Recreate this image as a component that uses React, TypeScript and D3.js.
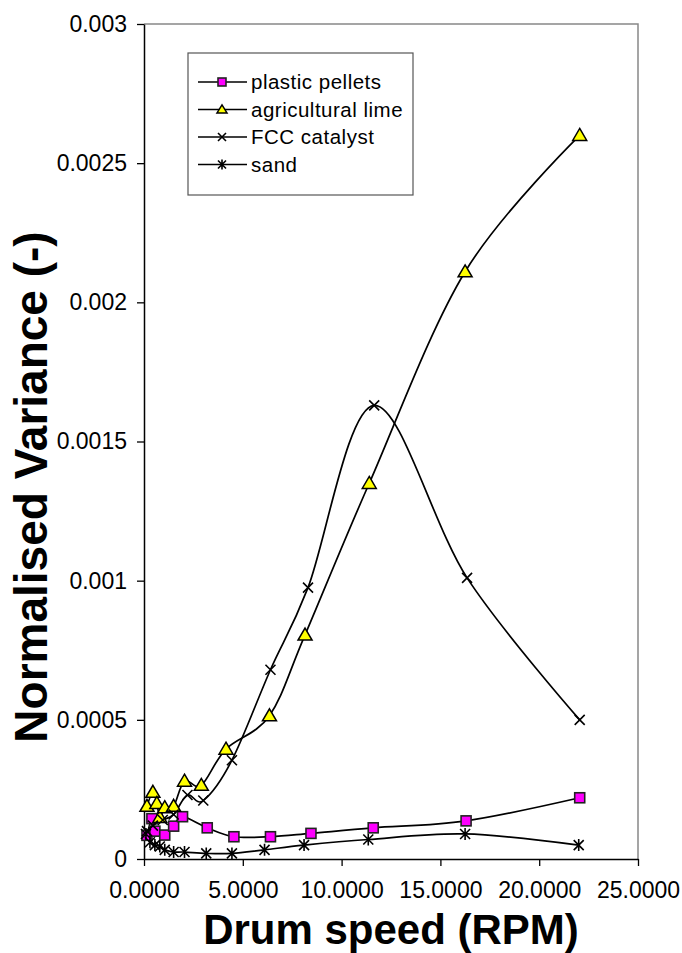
import React, { useEffect, useRef } from "react";
import * as d3 from "d3";

// values
const xTicks = [0, 5, 10, 15, 20, 25];
const yTicks = [0, 0.0005, 0.001, 0.0015, 0.002, 0.0025, 0.003];

const pelletsX = [0.15, 0.4, 0.55, 1.05, 1.5, 1.95, 3.2, 4.55, 6.4, 8.45, 11.6, 16.3, 22.05];
const pelletsY = [0.000085, 0.000145, 0.0001, 0.000086, 0.000118, 0.000152, 0.000112, 0.00008, 0.00008, 0.000092, 0.000112, 0.000137, 0.00022];

const limeX = [0.15, 0.45, 0.65, 0.8, 1.05, 1.5, 2.05, 2.9, 4.15, 6.35, 8.15, 11.4, 16.25, 22.05];
const limeY = [0.00019, 0.00024, 0.0002, 0.00015, 0.000185, 0.00019, 0.00028, 0.000265, 0.000395, 0.000515, 0.000805, 0.00135, 0.00211, 0.0026];

const fccX = [0.15, 0.45, 0.95, 1.5, 2.2, 3.0, 4.45, 6.4, 8.3, 11.65, 16.35, 22.05];
const fccY = [0.0001, 0.00012, 0.00014, 0.00016, 0.00023, 0.00021, 0.000355, 0.00068, 0.000975, 0.00163, 0.00101, 0.0005];

const sandX = [0.1, 0.3, 0.55, 0.8, 1.05, 1.5, 2.05, 3.15, 4.45, 6.1, 8.1, 11.35, 16.25, 22.0];
const sandY = [0.00009, 0.00006, 0.00005, 0.000045, 0.000033, 0.000025, 0.000025, 0.00002, 0.00002, 0.000033, 0.00005, 0.00007, 0.00009, 0.00005];

const seriesNames = ["plastic pellets", "agricultural lime", "FCC catalyst", "sand"];
const seriesMarkers = ["square", "triangle", "cross", "star"];

const FONT = "'Liberation Sans', Arial, sans-serif";

function drawMarker(g: any, type: string, cx: number, cy: number, s: number) {
  if (type === "square") {
    g.append("rect")
      .attr("x", cx - s / 2)
      .attr("y", cy - s / 2)
      .attr("width", s)
      .attr("height", s)
      .attr("fill", "#ff00ff")
      .attr("stroke", "#222")
      .attr("stroke-width", 1.6);
  } else if (type === "triangle") {
    const h = s * 0.95;
    g.append("path")
      .attr("d", `M${cx},${cy - h * 0.6} L${cx + s / 2 + 1},${cy + h * 0.45} L${cx - s / 2 - 1},${cy + h * 0.45} Z`)
      .attr("fill", "#ffff00")
      .attr("stroke", "#000")
      .attr("stroke-width", 1.5);
  } else if (type === "cross") {
    const r = s / 2;
    g.append("path")
      .attr("d", `M${cx - r},${cy - r} L${cx + r},${cy + r} M${cx - r},${cy + r} L${cx + r},${cy - r}`)
      .attr("stroke", "#000")
      .attr("stroke-width", 1.6);
  } else {
    const r = s / 2;
    g.append("path")
      .attr("d", `M${cx - r},${cy - r} L${cx + r},${cy + r} M${cx - r},${cy + r} L${cx + r},${cy - r} M${cx},${cy - r - 1} L${cx},${cy + r + 1}`)
      .attr("stroke", "#000")
      .attr("stroke-width", 1.6);
  }
}

export default function App() {
  const svgRef = useRef<SVGSVGElement>(null);

  useEffect(() => {
    const svg = d3.select(svgRef.current);
    svg.selectAll("*").remove();

    const width = 682;
    const height = 953;
    const left = 144;
    const right = 638;
    const top = 24;
    const bottom = 859;

    const x = d3.scaleLinear().domain([0, 25]).range([left, right]);
    const y = d3.scaleLinear().domain([0, 0.003]).range([bottom, top]);

    svg.append("rect").attr("width", width).attr("height", height).attr("fill", "#fff");

    // plot area border (top and right in grey)
    svg.append("path")
      .attr("d", `M${left},${top} H${right} V${bottom}`)
      .attr("fill", "none")
      .attr("stroke", "#888")
      .attr("stroke-width", 1.5);

    const xAxis = svg.append("g")
      .attr("transform", `translate(0,${bottom})`)
      .call(d3.axisBottom(x).tickValues(xTicks).tickSize(7).tickSizeOuter(0).tickPadding(16).tickFormat(d3.format(".4f")));

    const yAxis = svg.append("g")
      .attr("transform", `translate(${left},0)`)
      .call(d3.axisLeft(y).tickValues(yTicks).tickSize(7).tickSizeOuter(0).tickPadding(10).tickFormat((d: any) => String(d)));

    [xAxis, yAxis].forEach((a) => {
      a.select(".domain").attr("stroke", "#000").attr("stroke-width", 1.5);
      a.selectAll(".tick line").attr("stroke", "#000").attr("stroke-width", 1.3);
      a.selectAll(".tick text")
        .attr("font-family", FONT)
        .attr("font-size", 23)
        .attr("fill", "#000");
    });

    const line = d3.line<[number, number]>()
      .x((d) => x(d[0]))
      .y((d) => y(d[1]))
      .curve(d3.curveCardinal.tension(0));

    const series = [
      { xs: pelletsX, ys: pelletsY },
      { xs: limeX, ys: limeY },
      { xs: fccX, ys: fccY },
      { xs: sandX, ys: sandY },
    ];

    const lines = svg.append("g");
    series.forEach((s) => {
      const pts = s.xs.map((v, i) => [v, s.ys[i]] as [number, number]);
      lines.append("path")
        .attr("d", line(pts))
        .attr("fill", "none")
        .attr("stroke", "#000")
        .attr("stroke-width", 1.7);
    });

    const marks = svg.append("g");
    series.forEach((s, k) => {
      s.xs.forEach((v, i) => {
        drawMarker(marks, seriesMarkers[k], x(v), y(s.ys[i]), k === 1 ? 12 : 10);
      });
    });

    // legend
    const lg = svg.append("g");
    lg.append("rect")
      .attr("x", 188)
      .attr("y", 53)
      .attr("width", 225)
      .attr("height", 142)
      .attr("fill", "#fff")
      .attr("stroke", "#555")
      .attr("stroke-width", 1.2);

    seriesNames.forEach((name, i) => {
      const ly = 82 + i * 27.5;
      lg.append("line")
        .attr("x1", 198)
        .attr("x2", 247)
        .attr("y1", ly)
        .attr("y2", ly)
        .attr("stroke", "#000")
        .attr("stroke-width", 1.6);
      drawMarker(lg, seriesMarkers[i], 222, ly, 8);
      lg.append("text")
        .attr("x", 251)
        .attr("y", ly)
        .attr("dy", "0.35em")
        .attr("font-family", FONT)
        .attr("font-size", 20.5)
        .attr("letter-spacing", 0.5)
        .text(name);
    });

    svg.append("text")
      .attr("x", (left + right) / 2)
      .attr("y", 944)
      .attr("text-anchor", "middle")
      .attr("font-family", FONT)
      .attr("font-weight", "bold")
      .attr("font-size", 42)
      .text("Drum speed (RPM)");

    svg.append("text")
      .attr("transform", `translate(47,487) rotate(-90)`)
      .attr("text-anchor", "middle")
      .attr("font-family", FONT)
      .attr("font-weight", "bold")
      .attr("font-size", 46)
      .text("Normalised Variance (-)");
  }, []);

  return (
    <svg
      ref={svgRef}
      width={682}
      height={953}
      style={{ position: "absolute", left: 0, top: 0 }}
    />
  );
}
